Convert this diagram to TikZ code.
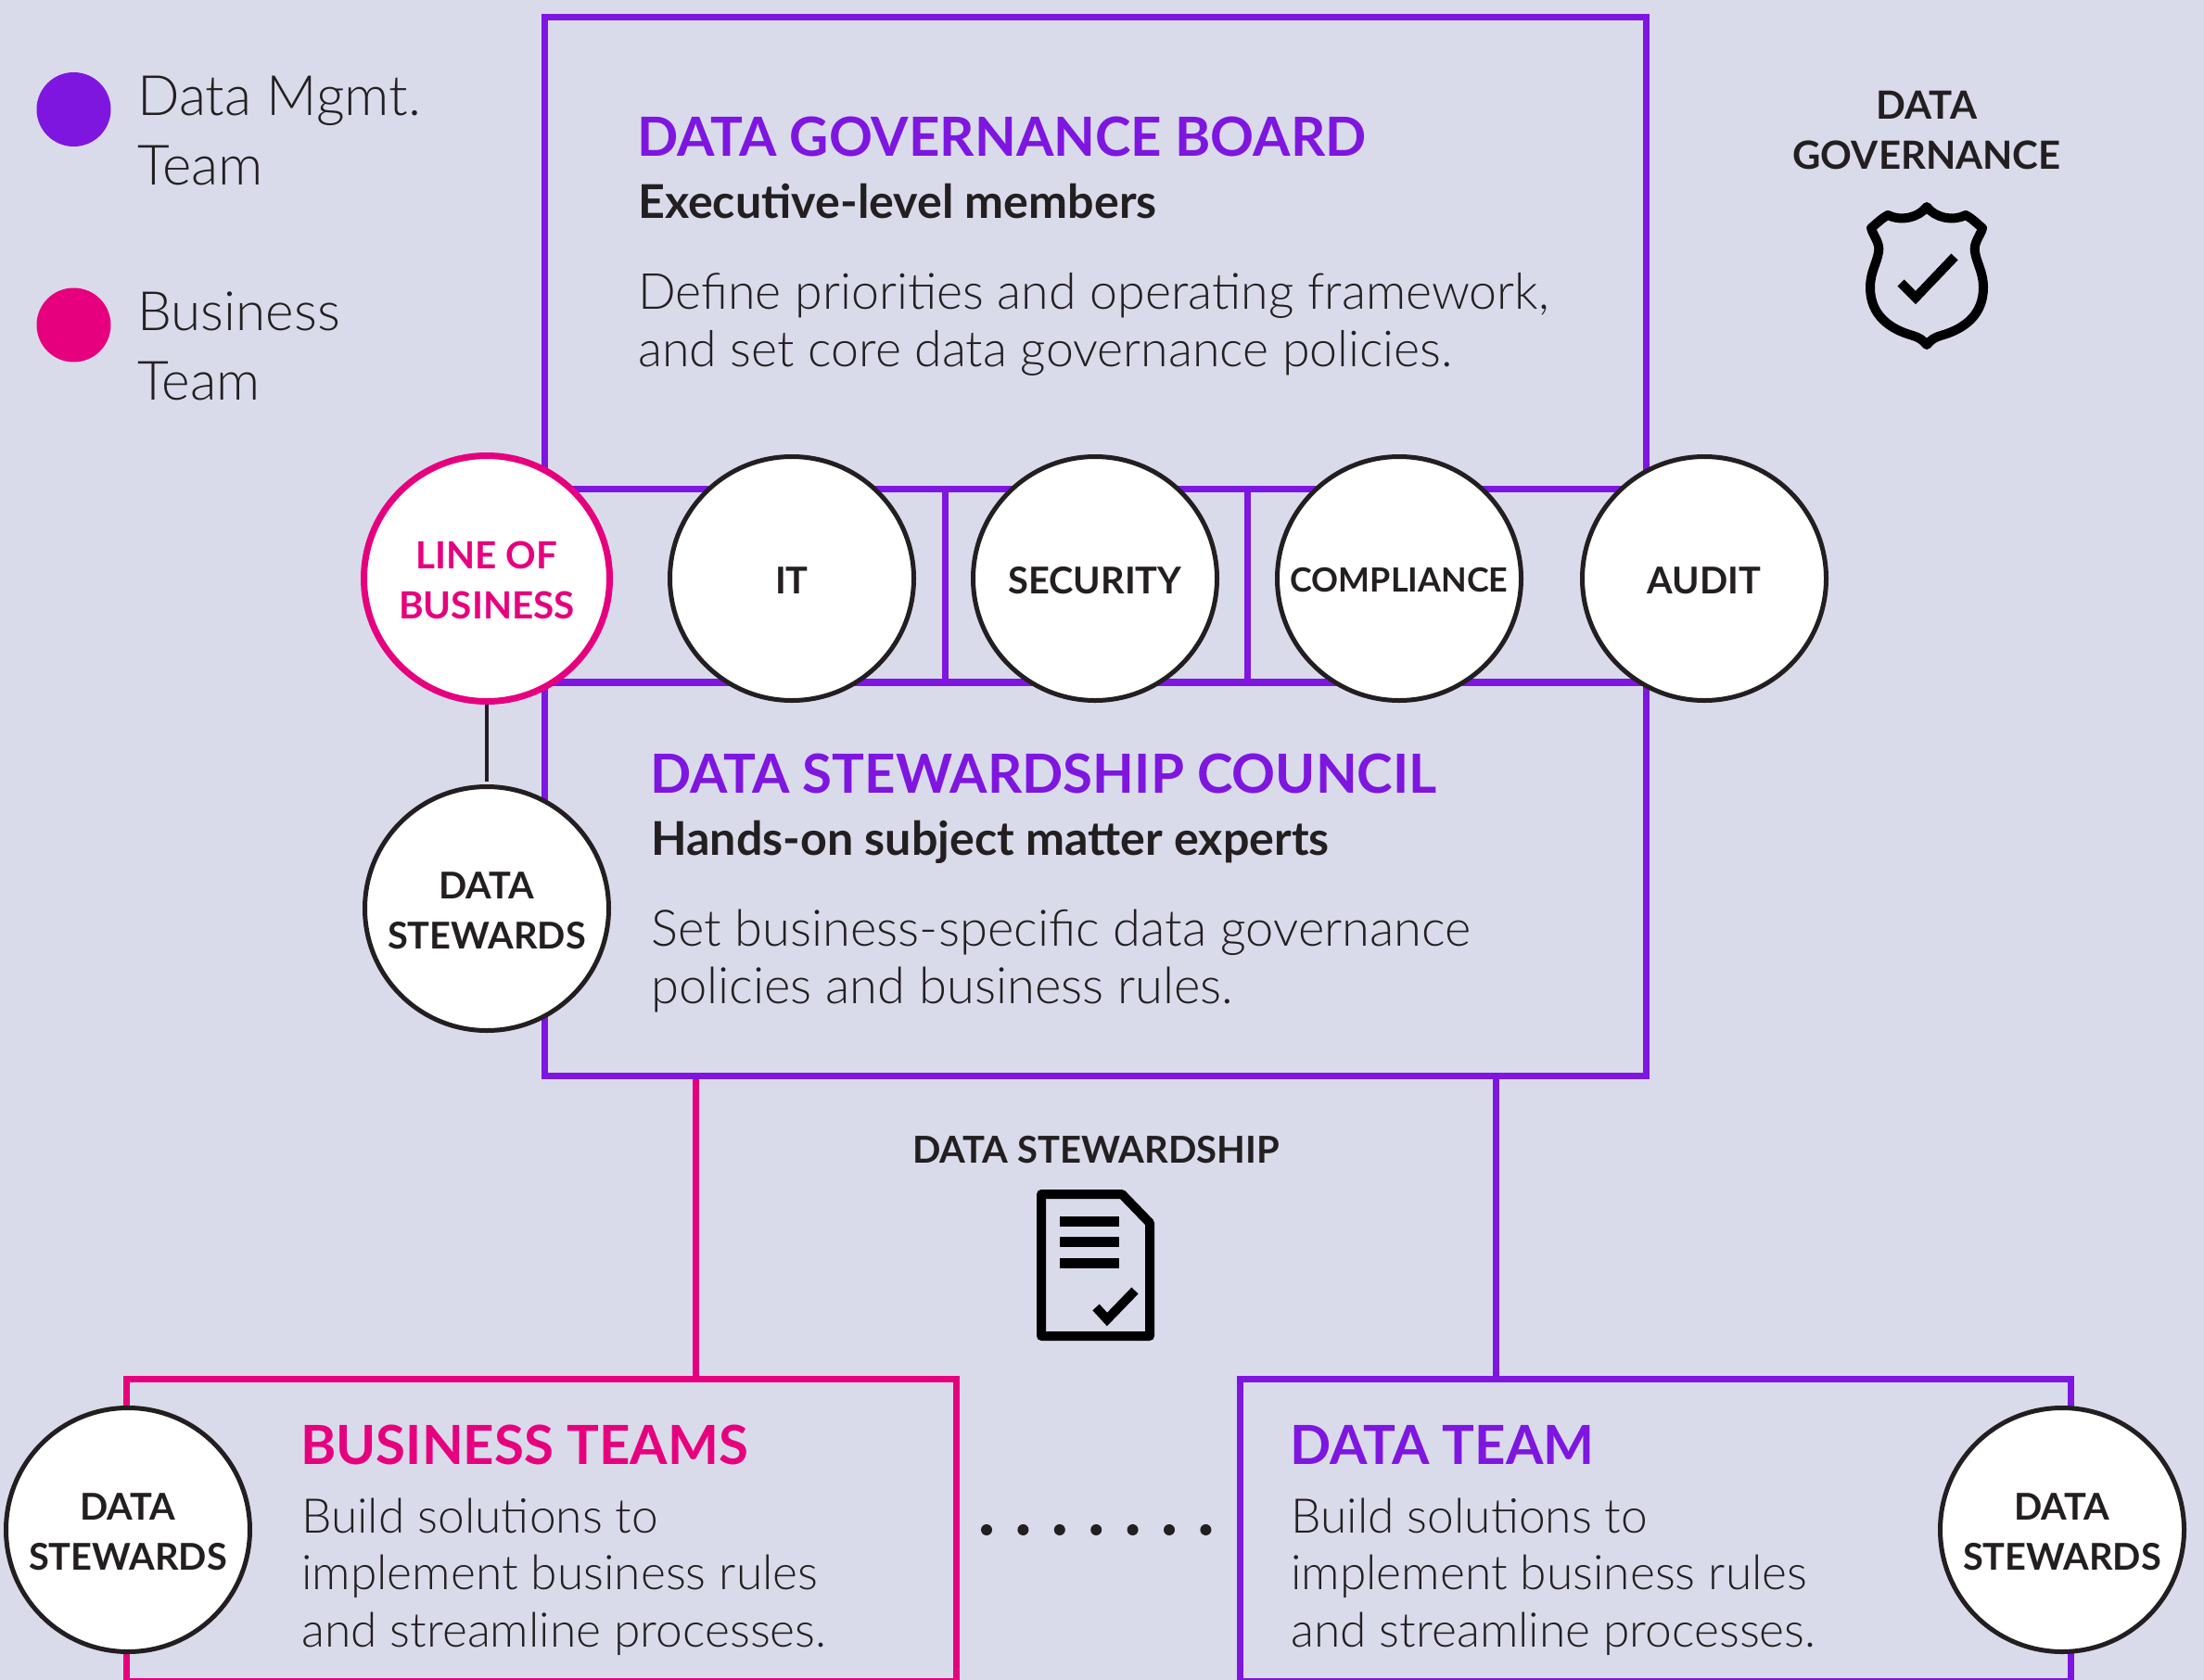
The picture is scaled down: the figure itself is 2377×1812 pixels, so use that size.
\documentclass[tikz,border=0pt]{standalone}
\usepackage{fontspec}
\setmainfont{Lato}
\newfontfamily\lightf{Lato Light}
\newfontfamily\semif{Lato Semibold}
\newcommand{\dn}[1]{\raisebox{-2pt}[\height][\depth]{#1}}
\definecolor{bgc}{HTML}{D9DBEB}
\definecolor{purp}{HTML}{7E16E0}
\definecolor{pinkc}{HTML}{E6007E}
\definecolor{ink}{HTML}{231F20}
\tikzset{
 frame/.style={draw=purp,line width=7pt,rectangle,inner sep=0pt,minimum width=#1},
 conn/.style={line width=7pt},
 titlet/.style={anchor=base west,inner sep=0pt,font=\bfseries\fontsize{58.2}{62}\selectfont},
 subt/.style={anchor=base west,inner sep=0pt,text=ink,font=\bfseries\fontsize{50.2}{62}\selectfont},
 bodyt/.style={anchor=base west,inner sep=0pt,text=ink,align=left,font=\lightf\fontsize{#1}{61.5}\selectfont},
 legt/.style={anchor=base west,inner sep=0pt,text=ink,align=left,font=\lightf\fontsize{#1}{75}\selectfont},
 labelt/.style={inner sep=0pt,text=ink,align=center,font=\bfseries\fontsize{40}{54}\selectfont},
 wcirc/.style={circle,draw=ink,fill=white,line width=5pt,inner sep=0pt,minimum size=263pt,align=center,text=ink,font=\bfseries\fontsize{39.8}{54}\selectfont},
 icon/.style={draw=black,line width=10pt,line join=round},
 tick/.style={draw=black,line width=10pt,line join=miter},
 dotc/.style={circle,inner sep=0pt,minimum size=80pt},
}
\begin{document}
\begin{tikzpicture}[x=1pt,y=-1pt]
\path[use as bounding box,fill=bgc] (0,0) rectangle (2377,1812);
\clip (0,0) rectangle (2377,1812);
% coordinates for connectors
\coordinate (pinkx) at (750,0);
\coordinate (purpx) at (1613,0);
\coordinate (div1x) at (1019.5,0);
\coordinate (div2x) at (1345,0);
% frames
\node[frame=1188pt,minimum height=509pt] (board) at (1181,272.5) {};
\node[frame=1188pt,minimum height=209pt] (band) at (1181,631.5) {};
\node[frame=1188pt,minimum height=425pt] (council) at (1181,947.5) {};
\node[frame=895pt,minimum height=326pt,draw=pinkc] (bizbox) at (583.5,1650) {};
\node[frame=896pt,minimum height=326pt] (databox) at (1785,1650) {};
\draw[purp,conn] (band.north -| div1x) -- (band.south -| div1x);
\draw[purp,conn] (band.north -| div2x) -- (band.south -| div2x);
\draw[pinkc,conn] (council.south -| pinkx) -- (bizbox.north -| pinkx);
\draw[purp,conn] (council.south -| purpx) -- (databox.north -| purpx);
% dots
\coordinate (dotsa) at (1064,1650);
\coordinate (dotsb) at (1302,1650);
\draw[ink,line width=12pt,line cap=round,dash pattern=on 0pt off 39.4pt] (dotsa) -- (dotsb);
% connector line of business to stewards
\node[circle,draw=pinkc,fill=white,line width=7pt,inner sep=0pt,minimum size=265pt,align=center,text=pinkc,font=\bfseries\fontsize{40.4}{54}\selectfont] (lob) at (525,624) {\dn{LINE OF}\\\dn{BUSINESS}};
\node[wcirc] (it) at (854,624) {\dn{IT}};
\node[wcirc] (sec) at (1181,624) {\dn{SECURITY}};
\node[wcirc,font=\bfseries\fontsize{35.9}{54}\selectfont] (comp) at (1509,624) {\dn{COMPLIANCE}};
\node[wcirc] (audit) at (1838,624) {\dn{AUDIT}};
\node[wcirc] (ds1) at (525,980) {\dn{DATA}\\\dn{STEWARDS}};
\node[wcirc] (ds2) at (138,1650) {\dn{DATA}\\\dn{STEWARDS}};
\node[wcirc] (ds3) at (2224,1650) {\dn{DATA}\\\dn{STEWARDS}};
\draw[ink,line width=4pt,shorten >=3pt] (lob) -- (ds1);
% legend
\node[dotc,fill=purp] (legA) at (79.5,118) {};
\node[dotc,fill=pinkc] (legB) at (79.5,350.5) {};
\node[legt=60] (legAt) at (148,199) {Data Mgmt.\\Team};
\node[legt=58.5] (legBt) at (148,431) {Business\\Team};
% board text
\node[titlet,text=purp] (t1) at (687,168) {DATA GOVERNANCE BOARD};
\node[subt] (s1) at (688,235) {Executive-level members};
\node[bodyt=53.7] (b1) at (688,395) {Define priorities and operating framework,\\and set core data governance policies.};
% council text
\node[titlet,text=purp] (t2) at (701,855) {DATA STEWARDSHIP COUNCIL};
\node[subt] (s2) at (702,922) {Hands-on subject matter experts};
\node[bodyt=54.3] (b2) at (702,1082) {Set business-specific data governance\\policies and business rules.};
% teams text
\node[titlet,text=pinkc] (t3) at (324,1579) {BUSINESS TEAMS};
\node[bodyt=51.5] (b3) at (325,1776) {Build solutions to\\implement business rules\\and streamline processes.};
\node[titlet,text=purp] (t4) at (1391,1579) {DATA TEAM};
\node[bodyt=51.5] (b4) at (1392,1776) {Build solutions to\\implement business rules\\and streamline processes.};
% side labels
\node[labelt,anchor=base,font=\bfseries\fontsize{41.9}{54}\selectfont] (lg) at (2078,182) {DATA\\GOVERNANCE};
\node[labelt,anchor=base] (ls) at (1182,1254) {DATA STEWARDSHIP};
% shield icon
\draw[icon] (2078,223) .. controls (2069,235) and (2050,239) .. (2036,232)
  .. controls (2030,235) and (2024,241) .. (2018,246)
  .. controls (2020,254) and (2028,262) .. (2026,272)
  .. controls (2024,284) and (2017,294) .. (2017,310)
  .. controls (2017,340) and (2038,355) .. (2063,362)
  .. controls (2070,364) and (2074,367) .. (2078,372)
  .. controls (2082,367) and (2086,364) .. (2093,362)
  .. controls (2118,355) and (2139,340) .. (2139,310)
  .. controls (2139,294) and (2132,284) .. (2130,272)
  .. controls (2128,262) and (2136,254) .. (2138,246)
  .. controls (2132,241) and (2126,235) .. (2120,232)
  .. controls (2106,239) and (2087,235) .. (2078,223) -- cycle;
\draw[tick] (2050,305) -- (2066,321) -- (2108,277);
% document icon
\draw[icon] (1123,1288) -- (1210,1288) -- (1240,1319) -- (1240,1441) -- (1123,1441) -- cycle;
\draw[draw=black,line width=11pt] (1143,1317) -- (1207,1317);
\draw[draw=black,line width=11pt] (1143,1339) -- (1207,1339);
\draw[draw=black,line width=11pt] (1143,1362) -- (1207,1362);
\draw[tick] (1182,1410) -- (1194,1423) -- (1224,1392);
\end{tikzpicture}
\end{document}
